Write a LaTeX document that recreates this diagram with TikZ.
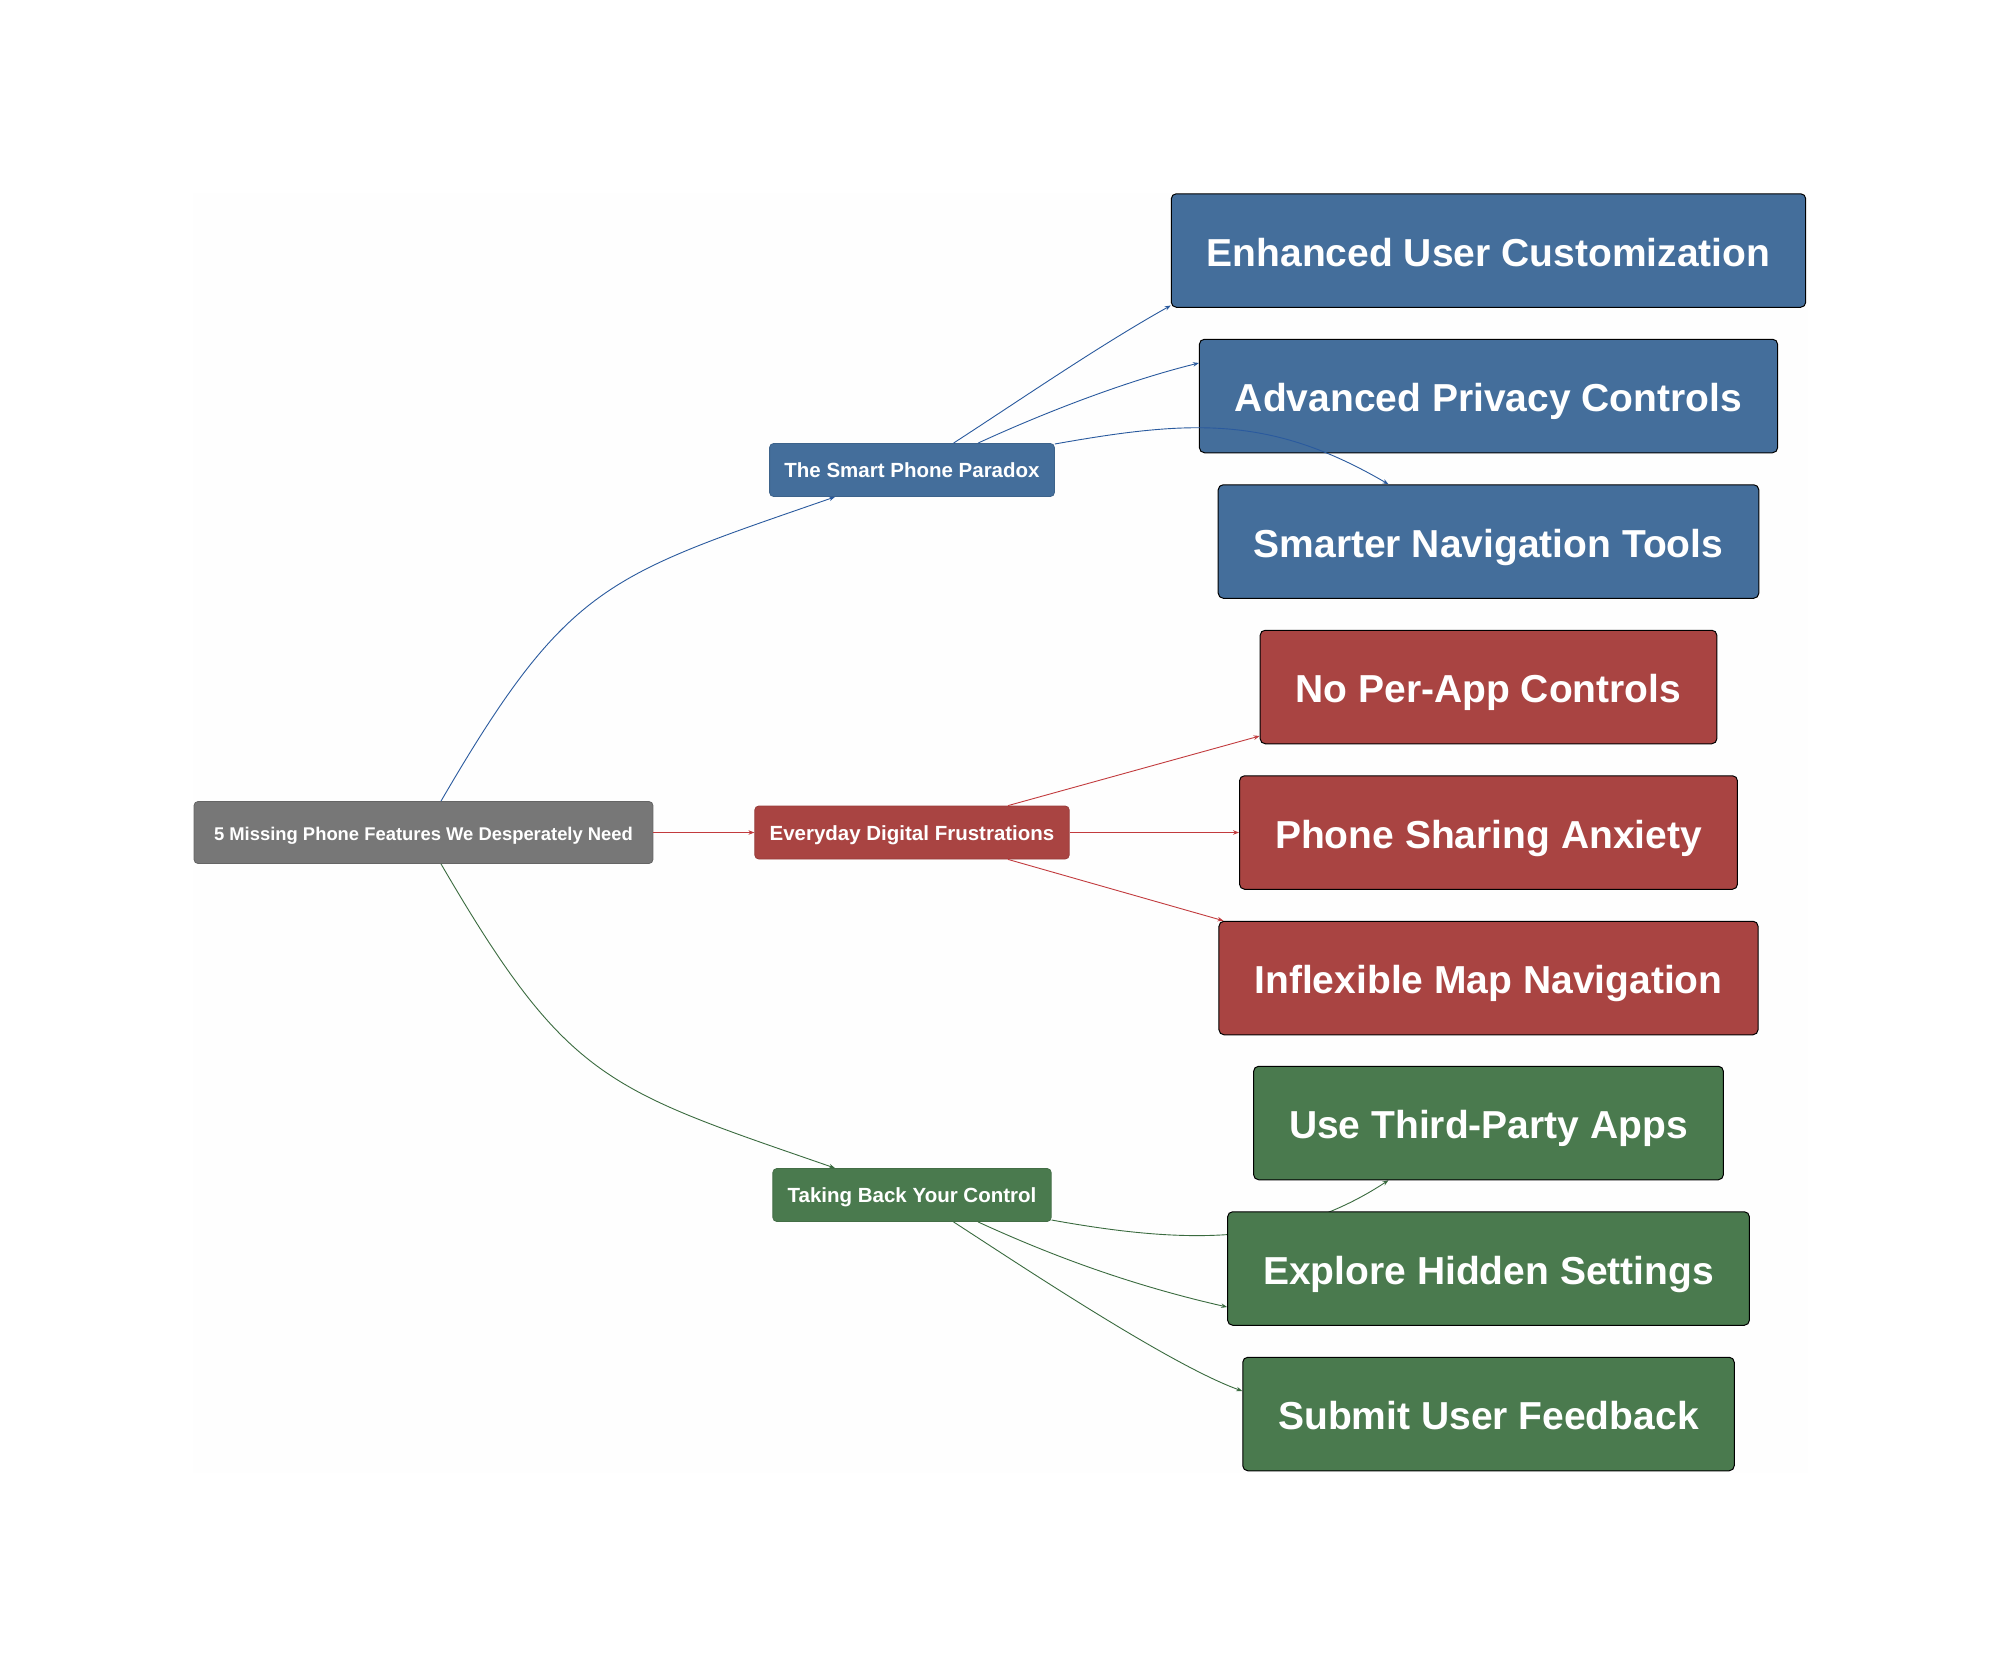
\documentclass[tikz,border=0pt]{standalone}
\usepackage{xcolor}
\usepackage{fontspec}
\setmainfont{Liberation Sans}
\usetikzlibrary{arrows.meta, backgrounds}
\definecolor{rootgray}{HTML}{777777}
\definecolor{paradoxblue}{HTML}{446E9B}
\definecolor{frustred}{HTML}{A94442}
\definecolor{controlgreen}{HTML}{4A7A4E}
\definecolor{paradoxline}{HTML}{2A5A9E}
\definecolor{frustline}{HTML}{C23B3E}
\definecolor{controlline}{HTML}{3A6B3F}
\definecolor{pagetint}{HTML}{FEFEFE}
\tikzset{
  topicbox/.style={rounded corners=4pt, text=white, font=\fontsize{20.5}{20.5}\selectfont\bfseries,
    minimum height=53pt, inner xsep=14.8pt, inner ysep=0pt, text height=19pt, text depth=4pt, line width=0.8pt},
  leafbox/.style={rounded corners=5pt, text=white, font=\fontsize{39}{39}\selectfont\bfseries,
    minimum height=113.5pt, inner xsep=35.5pt, inner ysep=0pt, text height=36pt, text depth=5pt, draw=black, line width=1pt},
  link/.style={line width=0.9pt, -{Stealth[length=6pt,width=4.5pt]}}
}

\begin{document}
\begin{tikzpicture}[x=1pt, y=-1pt]
  \useasboundingbox (0,0) rectangle (2000,1665);

  % root and topics
  \node[topicbox, fill=rootgray, draw=rootgray!85!black, minimum height=62pt, inner xsep=20pt, text height=20pt, font=\fontsize{18.4}{18.4}\selectfont\bfseries] (root) at (423.5,832.5) {5 Missing Phone Features We Desperately Need};
  \node[topicbox, fill=paradoxblue, draw=paradoxblue!90!black] (paradox) at (912,470) {The Smart Phone Paradox};
  \node[topicbox, fill=frustred, draw=frustred!90!black] (frustrations) at (912,832.5) {Everyday Digital Frustrations};
  \node[topicbox, fill=controlgreen, draw=controlgreen!90!black] (control) at (912,1195) {Taking Back Your Control};

  % leaves
  \node[leafbox, fill=paradoxblue] (customization) at (1488.5,250.5) {Enhanced User Customization};
  \node[leafbox, fill=paradoxblue] (privacy) at (1488.5,396) {Advanced Privacy Controls};
  \node[leafbox, fill=paradoxblue] (navigation) at (1488.5,541.5) {Smarter Navigation Tools};
  \node[leafbox, fill=frustred] (perapp) at (1488.5,687) {No Per-App Controls};
  \node[leafbox, fill=frustred] (sharing) at (1488.5,832.5) {Phone Sharing Anxiety};
  \node[leafbox, fill=frustred] (maps) at (1488.5,978) {Inflexible Map Navigation};
  \node[leafbox, fill=controlgreen] (thirdparty) at (1488.5,1123) {Use Third-Party Apps};
  \node[leafbox, fill=controlgreen] (hidden) at (1488.5,1268.5) {Explore Hidden Settings};
  \node[leafbox, fill=controlgreen] (feedback) at (1488.5,1414) {Submit User Feedback};

  % page tint, and the one link that runs behind a box
  \begin{scope}[on background layer]
    \fill[pagetint] (193,193) rectangle (1808,1473);
    \draw[link, controlline] ([yshift=-25pt]control.east) .. controls (1190,1245) and (1290,1245) .. ([xshift=-100pt]thirdparty.south);
  \end{scope}

  \draw[link, paradoxline] ([xshift=17.5pt]root.north) .. controls (568,583) and (607,576) .. ([xshift=-77pt]paradox.south);
  \draw[link, frustline] (root.east) -- (frustrations.west);
  \draw[link, controlline] ([xshift=17.5pt]root.south) .. controls (568,1082) and (607,1089) .. ([xshift=-77pt]control.north);

  \draw[link, paradoxline] ([xshift=41.5pt]paradox.north) .. controls (1020,400) and (1100,345) .. ([yshift=-55pt]customization.west);
  \draw[link, paradoxline] ([xshift=66pt]paradox.north) .. controls (1050,410) and (1130,380) .. ([yshift=33pt]privacy.west);
  \draw[link, paradoxline] ([yshift=26pt]paradox.east) .. controls (1190,420) and (1270,415) .. ([xshift=-100pt]navigation.north);

  \draw[link, frustline] ([xshift=96pt]frustrations.north) -- ([yshift=-49pt]perapp.west);
  \draw[link, frustline] (frustrations.east) -- (sharing.west);
  \draw[link, frustline] ([xshift=96pt]frustrations.south) -- ([xshift=-265pt]maps.north);

  \draw[link, controlline] ([xshift=66pt]control.south) .. controls (1050,1255) and (1130,1285) .. ([yshift=-38.5pt]hidden.west);
  \draw[link, controlline] ([xshift=41.5pt]control.south) .. controls (1020,1265) and (1170,1365) .. ([yshift=23pt]feedback.west);
\end{tikzpicture}
\end{document}
